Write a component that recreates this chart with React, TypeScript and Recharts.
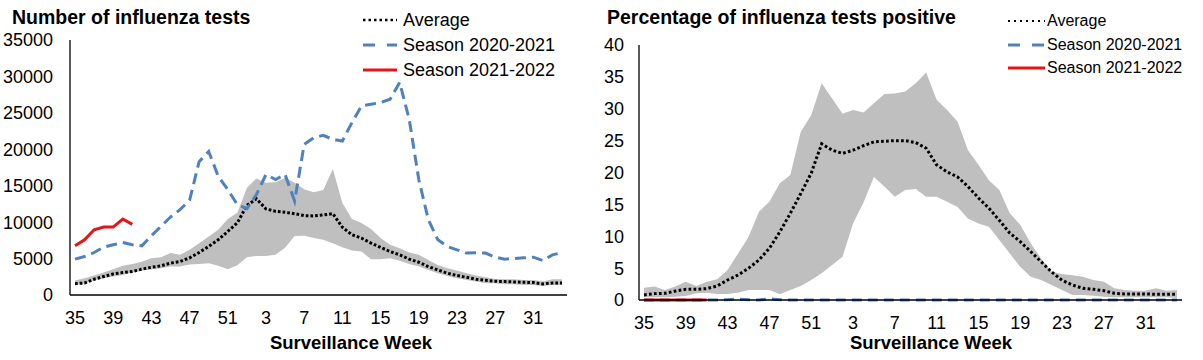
import React from 'react';
import { ComposedChart, Area, Line, XAxis, YAxis } from 'recharts';

const FONT = '"Liberation Sans", Arial, Helvetica, sans-serif';

// surveillance weeks, season runs from week 35 to week 34
const weeks = [
  35, 36, 37, 38, 39, 40, 41, 42, 43, 44, 45, 46, 47, 48, 49, 50, 51, 52,
  1, 2, 3, 4, 5, 6, 7, 8, 9, 10, 11, 12, 13, 14, 15, 16, 17, 18, 19, 20,
  21, 22, 23, 24, 25, 26, 27, 28, 29, 30, 31, 32, 33, 34,
];

const yTicksTests = [0, 5000, 10000, 15000, 20000, 25000, 30000, 35000];
const yTicksPct = [0, 5, 10, 15, 20, 25, 30, 35, 40];

// number of tests
const testsAvg = [
  1550, 1650, 2160, 2530, 2890, 3080, 3220, 3540, 3810, 4000, 4370, 4590, 5100, 5830, 6660, 7580, 8730, 9900,
  12300, 13200, 11810, 11480, 11350, 11160, 10890, 10850, 11000, 11160, 9300, 8270, 7810, 7120, 6530, 5970,
  5510, 4920, 4500, 3900, 3440, 2990, 2670, 2440, 2160, 2020, 1880, 1840, 1790, 1750, 1700, 1520, 1650, 1650,
];
const testsHigh = [
  1980, 2300, 2670, 3080, 3540, 4000, 4270, 4550, 5050, 5190, 5750, 5510, 6200, 7120, 8040, 8960, 10430, 11300,
  14700, 16000, 15390, 15480, 16100, 15400, 14500, 14100, 14400, 17300, 12640, 10430, 9880, 9050, 7810, 6890,
  6430, 5830, 5510, 4820, 4130, 3670, 3350, 2990, 2670, 2440, 2210, 2160, 2160, 2070, 2070, 1840, 2160, 2160,
];
const testsLow = [
  1380, 1610, 1980, 2300, 2530, 2760, 3080, 3350, 3490, 3670, 3900, 3900, 4180, 4270, 4370, 4000, 3540, 4100,
  5190, 5370, 5370, 5510, 6500, 8100, 8130, 7810, 7580, 7120, 6570, 6110, 5970, 4920, 4920, 5050,
  4690, 4270, 3900, 3440, 2990, 2620, 2300, 2070, 1840, 1610, 1610, 1470, 1470, 1380, 1380, 1240, 1380, 1380,
];
const tests2021 = [
  4920, 5280, 5830, 6570, 6890, 7210, 6890, 6750, 8130, 9410, 10700, 11710, 13000, 18300, 19700, 16300, 14470, 12400,
  11850, 13780, 16540, 15850, 16540, 12900, 20670, 21590, 21910, 21360, 21130, 23660, 25950, 26180, 26410, 26870,
  29170, 24110, 15850, 10340, 7580, 6660, 6200, 5750, 5800, 5750, 5190, 4920, 5010, 5100, 5190, 4730, 5510, 5830,
];
const tests2122 = [6750, 7580, 8960, 9330, 9330, 10430, 9690];

// percentage positive
const pctAvg = [
  0.8, 1.0, 1.05, 1.4, 1.67, 1.67, 1.78, 2.2, 3.14, 3.92, 4.97, 6.27, 8.1, 10.7, 13.6, 16.7, 19.9, 24.5,
  23.5, 23.0, 23.5, 24.2, 24.8, 24.9, 25.0, 25.0, 24.7, 23.8, 21.2, 20.1, 19.3, 17.8, 16.0, 14.4,
  12.5, 10.5, 9.15, 7.6, 6.0, 4.4, 3.1, 2.35, 1.83, 1.67, 1.46, 1.05, 0.94, 0.94, 0.94, 0.9, 0.9, 0.9,
];
const pctHigh = [
  1.94, 2.1, 1.57, 2.1, 2.88, 2.2, 2.88, 3.24, 4.7, 7.3, 9.9, 13.85, 15.4, 18.3, 19.6, 26.4, 29.0, 34.0,
  31.6, 29.2, 29.8, 29.4, 30.85, 32.3, 32.4, 32.7, 34.0, 35.7, 31.4, 29.8, 28.0, 23.5, 21.2, 18.8,
  17.25, 13.6, 11.8, 8.9, 6.5, 4.45, 4.08, 3.9, 3.66, 3.14, 2.88, 1.83, 1.57, 1.46, 1.46, 1.83, 1.46, 1.57,
];
const pctLow = [
  0.42, 0.42, 0.42, 0.52, 0.63, 1.05, 1.15, 0.94, 0.94, 1.15, 1.57, 1.57, 1.57, 0.9, 1.57, 2.2, 3.14, 4.18,
  5.5, 6.8, 12.0, 15.3, 19.3, 17.8, 16.2, 17.25, 17.4, 16.2, 16.2, 15.4, 14.6, 12.8, 12.0, 11.5,
  9.4, 7.3, 5.2, 3.66, 3.14, 2.35, 1.57, 0.78, 0.78, 0.68, 0.52, 0.42, 0.42, 0.42, 0.42, 0.42, 0.42, 0.3,
];
const pct2021 = [
  0, 0, 0, 0, 0, 0, 0, 0, 0.05, 0.15, 0.05, 0, 0.2, 0.05, 0, 0, 0, 0,
  0, 0, 0, 0, 0, 0, 0, 0, 0, 0, 0, 0, 0, 0, 0, 0,
  0, 0, 0, 0, 0, 0, 0, 0, 0, 0, 0, 0, 0, 0, 0, 0, 0, 0,
];
const pct2122 = [0, 0, 0, 0, 0, 0, 0];

const BLUE = '#4f81bd';
const RED = '#e81414';
const GREY = '#bfbfbf';

const build = (avg: number[], lo: number[], hi: number[], s1: number[], s2: number[]) =>
  weeks.map((w, i) => ({
    week: String(w),
    range: [lo[i], hi[i]],
    avg: avg[i],
    s2021: s1[i],
    s2122: i < s2.length ? s2[i] : null,
  }));

const testsData = build(testsAvg, testsLow, testsHigh, tests2021, tests2122);
const pctData = build(pctAvg, pctLow, pctHigh, pct2021, pct2122);

type LegendProps = {
  left: number;
  rows: number[];
  sampleW: number;
  gap: number;
  fontSize: number;
  dotDash: string;
  dotWidth: number;
  blueDash: string;
};

const LegendBox = ({ left, rows, sampleW, gap, fontSize, dotDash, dotWidth, blueDash }: LegendProps) => {
  const items = [
    { label: 'Average', stroke: '#000', dash: dotDash, w: dotWidth },
    { label: 'Season 2020-2021', stroke: BLUE, dash: blueDash, w: 3 },
    { label: 'Season 2021-2022', stroke: RED, dash: undefined, w: 3 },
  ];
  return (
    <>
      {items.map((it, i) => (
        <div
          key={it.label}
          style={{ position: 'absolute', left, top: rows[i] - 12, height: 24, display: 'flex', alignItems: 'center', whiteSpace: 'nowrap' }}
        >
          <svg width={sampleW} height={6} style={{ display: 'block' }}>
            <line x1={0} y1={3} x2={sampleW} y2={3} stroke={it.stroke} strokeWidth={it.w} strokeDasharray={it.dash} />
          </svg>
          <span style={{ marginLeft: gap, fontSize, color: '#000', lineHeight: '24px' }}>{it.label}</span>
        </div>
      ))}
    </>
  );
};

const axisTick = { fill: '#000', fontSize: 18, fontFamily: FONT };

const titleStyle: React.CSSProperties = {
  position: 'absolute',
  top: 6,
  fontSize: 19.5,
  fontWeight: 'bold',
  lineHeight: '22px',
  whiteSpace: 'nowrap',
  color: '#000',
};

const xTitleStyle: React.CSSProperties = {
  position: 'absolute',
  top: 332,
  width: 240,
  textAlign: 'center',
  fontSize: 18.5,
  fontWeight: 'bold',
  lineHeight: '22px',
  color: '#000',
};

export default function App() {
  return (
    <div style={{ position: 'absolute', left: 0, top: 0, width: 1203, height: 360, background: '#fff', fontFamily: FONT, overflow: 'hidden' }}>
      {/* left: number of tests */}
      <div style={{ position: 'absolute', left: 0, top: 0 }}>
        <ComposedChart width={590} height={360} data={testsData} margin={{ top: 40, right: 23, bottom: 35, left: 0 }}>
          <XAxis
            dataKey="week"
            interval={3}
            tickLine={false}
            axisLine={{ stroke: '#000', strokeWidth: 1.3 }}
            tick={axisTick}
            tickMargin={10}
            padding={{ left: 5, right: 5 }}
            height={30}
          />
          <YAxis
            domain={[0, 35000]}
            ticks={yTicksTests}
            interval={0}
            width={70}
            tickLine={false}
            axisLine={{ stroke: '#000', strokeWidth: 1.3 }}
            tick={axisTick}
            tickMargin={11}
          />
          <Area dataKey="range" type="linear" fill={GREY} fillOpacity={1} stroke="none" isAnimationActive={false} activeDot={false} />
          <Line dataKey="avg" type="linear" stroke="#000" strokeWidth={3} strokeDasharray="2.7 2" dot={false} activeDot={false} isAnimationActive={false} />
          <Line dataKey="s2021" type="linear" stroke={BLUE} strokeWidth={3} strokeDasharray="11 6" dot={false} activeDot={false} isAnimationActive={false} />
          <Line dataKey="s2122" type="linear" stroke={RED} strokeWidth={3} dot={false} activeDot={false} isAnimationActive={false} />
        </ComposedChart>
      </div>

      {/* right: percentage positive */}
      <div style={{ position: 'absolute', left: 595, top: 0 }}>
        <ComposedChart width={608} height={360} data={pctData} margin={{ top: 45, right: 21, bottom: 30, left: 0 }}>
          <XAxis
            dataKey="week"
            interval={3}
            tickLine={false}
            axisLine={{ stroke: '#000', strokeWidth: 1.3 }}
            tick={axisTick}
            tickMargin={10}
            padding={{ left: 5, right: 5 }}
            height={30}
          />
          <YAxis
            domain={[0, 40]}
            ticks={yTicksPct}
            interval={0}
            width={44}
            tickLine={false}
            axisLine={{ stroke: '#000', strokeWidth: 1.3 }}
            tick={axisTick}
            tickMargin={9}
          />
          <Area dataKey="range" type="linear" fill={GREY} fillOpacity={1} stroke="none" isAnimationActive={false} activeDot={false} />
          <Line dataKey="avg" type="linear" stroke="#000" strokeWidth={3} strokeDasharray="2.7 2.3" dot={false} activeDot={false} isAnimationActive={false} />
          <Line dataKey="s2021" type="linear" stroke={BLUE} strokeWidth={3} strokeDasharray="10 6" dot={false} activeDot={false} isAnimationActive={false} />
          <Line dataKey="s2122" type="linear" stroke={RED} strokeWidth={3} dot={false} activeDot={false} isAnimationActive={false} />
        </ComposedChart>
      </div>

      <div style={{ ...titleStyle, left: 12 }}>Number of influenza tests</div>
      <div style={{ ...titleStyle, left: 607 }}>Percentage of influenza tests positive</div>
      <div style={{ ...xTitleStyle, left: 231 }}>Surveillance Week</div>
      <div style={{ ...xTitleStyle, left: 811 }}>Surveillance Week</div>

      <LegendBox left={363} rows={[20, 45, 70]} sampleW={34} gap={6} fontSize={18} dotDash="2.5 3" dotWidth={2.5} blueDash="12 12" />
      <LegendBox left={1008} rows={[21, 44.5, 68]} sampleW={37} gap={2} fontSize={16} dotDash="2 4" dotWidth={2} blueDash="12 12" />
    </div>
  );
}
